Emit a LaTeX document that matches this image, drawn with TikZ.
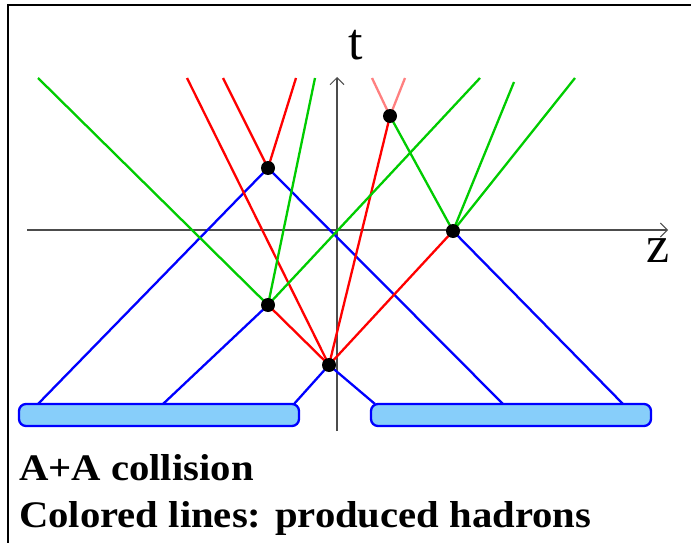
\documentclass[tikz,border=0pt]{standalone}
\usepackage{fontspec}
\setmainfont{Liberation Serif}
\newfontfamily\capfont[FakeStretch=1.085]{Liberation Serif}
\usetikzlibrary{arrows.meta}
\definecolor{hgreen}{RGB}{0,204,0}
\definecolor{hred}{RGB}{255,0,0}
\definecolor{hpink}{RGB}{255,128,128}
\definecolor{nblue}{RGB}{0,0,255}
\definecolor{slabfill}{RGB}{135,206,250}
\begin{document}
\begin{tikzpicture}[
  x=1pt, y=-1pt,
  axis/.style={line width=1.3pt, black!70, -{Straight Barb[length=7pt, width=14pt, line width=1pt]}},
  wl/.style={line width=2.3pt},
  slab/.style={draw=nblue, line width=2.3pt, fill=slabfill, rounded corners=7pt,
    minimum height=22pt, inner sep=0pt},
  vx/.style={circle, fill=black, minimum size=14pt, inner sep=0pt},
  axlbl/.style={font=\fontsize{52}{52}\selectfont, inner sep=0pt},
  captxt/.style={font=\capfont\fontsize{37.5}{37.5}\selectfont\bfseries, anchor=base west, inner sep=0pt}
]
\useasboundingbox (0,0) rectangle (691,543);
\draw[line width=2.2pt] (8,543) -- (8,5) -- (691,5);
% ---------------- axes ----------------------------------------------------
\draw[axis] (27,230) -- (668,230);
\draw[axis] (337,431) -- (337,77);
\node[axlbl] (tl) at (356,45) {t};
\node[axlbl] (zl) at (658,251) {z};
% ---------------- interaction points --------------------------------------
\coordinate (v0) at (329,365);
\coordinate (v1) at (268,305);
\coordinate (v2) at (268,168);
\coordinate (v3) at (390,116);
\coordinate (v4) at (453,231);
% ---------------- nucleons (blue) -----------------------------------------
\foreach \a/\b in {38/v2, 163/v1, 294/v0}
  \draw[wl, nblue] (\a,404) -- (\b);
\foreach \a/\b in {v0/375, v2/503, v4/623}
  \draw[wl, nblue] (\a) -- (\b,404);
% ---------------- produced hadrons ----------------------------------------
\draw[wl, hred] (v1) -- (v0);
\foreach \b in {v3, v4}
  \draw[wl, hred] (v0) -- (\b);
\draw[wl, hred] (187,78) -- (v0);
\foreach \x in {223, 296}
  \draw[wl, hred] (v2) -- (\x,78);
\foreach \x in {372, 405}
  \draw[wl, hpink] (v3) -- (\x,78);
\foreach \x in {38, 315, 480}
  \draw[wl, hgreen] (v1) -- (\x,78);
\draw[wl, hgreen] (v3) -- (v4);
\draw[wl, hgreen] (v4) -- (514,82);
\draw[wl, hgreen] (v4) -- (575,78);
% ---------------- nuclei --------------------------------------------------
\node[slab, minimum width=280pt] (nA) at (159,415) {};
\node[slab, minimum width=280pt] (nB) at (511,415) {};
\foreach \v in {v0,v1,v2,v3,v4}
  \node[vx] (d\v) at (\v) {};
% ---------------- caption -------------------------------------------------
\node[captxt] (c1) at (19,480) {A+A collision};
\node[captxt] (c2) at (19,527) {Colored lines: produced hadrons};
\end{tikzpicture}
\end{document}
